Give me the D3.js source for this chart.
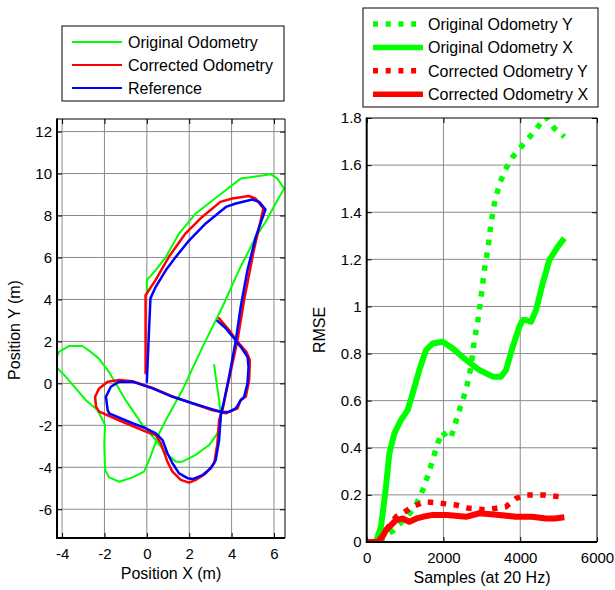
<!DOCTYPE html>
<html>
<head>
<meta charset="utf-8">
<script src="https://cdn.jsdelivr.net/npm/d3@7"></script>
<style>
body { margin: 0; background: #fff; }
svg { font-family: "Liberation Sans", Arial, sans-serif; }
</style>
</head>
<body>
<svg id="chart" width="615" height="590"></svg>
<script>
// left plot: trajectories [x, y] in metres
var origPath = [[0,4.35],[0,4.92],[0.42,5.4],[0.9,6.03],[1.52,7.14],[2.31,8.1],[3.41,8.97],[4.43,9.76],[4.98,9.84],[5.85,9.97],[6.16,9.76],[6.48,9.29],[6.16,8.73],[5.61,7.7],[5.14,6.98],[4.35,5.4],[3.57,3.65],[2.63,1.74],[1.68,-0.32],[0.9,-1.75],[0.58,-2.38],[0.11,-3.65],[-0.13,-4.21],[-0.68,-4.48],[-1.3,-4.69],[-1.78,-4.48],[-1.97,-4.13],[-2.01,-2.86],[-1.97,-1.99],[-2.33,-1.27],[-2.88,-0.8],[-3.83,0.32],[-4.28,0.79],[-4.3,1.1],[-4.15,1.5],[-3.68,1.78],[-3.05,1.78],[-2.66,1.51],[-2.27,1.19],[-1.79,0.55],[-1,-0.8],[-0.2,-1.99],[0.42,-2.7],[0.9,-3.33],[1.37,-3.73],[1.68,-3.73],[2.31,-3.41],[2.94,-2.94],[3.33,-2.38],[3.49,-1.75],[3.49,-1.51],[3.41,-0.8],[3.25,0.31],[3.18,0.87]];
var corrPath = [[-0.06,0.48],[-0.06,4.2],[0.41,4.92],[1.04,6.03],[1.82,7.14],[2.61,7.93],[3.47,8.65],[4.03,8.81],[4.81,8.93],[5.13,8.81],[5.5,8.33],[5.05,6.35],[4.59,3.97],[4.28,2.06],[3.73,-0.48],[3.57,-1.27],[3.41,-1.75],[3.33,-2.86],[3.18,-3.81],[2.78,-4.29],[2.31,-4.6],[1.99,-4.73],[1.6,-4.6],[1.21,-4.21],[0.97,-3.73],[0.66,-2.86],[0.42,-2.46],[-0.05,-2.3],[-1.15,-1.83],[-2.25,-1.35],[-2.4,-1.11],[-2.44,-0.64],[-2.25,-0.24],[-1.85,0.08],[-1.3,0.16],[-0.68,0.1],[0.27,-0.22],[1.21,-0.62],[2.15,-0.95],[3.1,-1.28],[3.57,-1.38],[3.73,-1.43],[4.28,-1.19],[4.43,-0.8],[4.67,-0.64],[4.83,0.16],[4.86,1.11],[4.7,1.5],[4.28,1.98],[3.88,2.54],[3.41,3.1]];
var refPath = [[0,0.08],[0.08,2],[0.17,4.05],[0.42,4.6],[0.9,5.4],[1.37,6.03],[2.0,6.82],[2.78,7.62],[3.73,8.41],[4.2,8.57],[4.98,8.76],[5.3,8.65],[5.6,8.29],[5.14,6.98],[4.75,5.4],[4.43,3.65],[4.2,2.06],[3.88,0.31],[3.65,-0.8],[3.49,-1.51],[3.41,-2.7],[3.25,-3.65],[3.02,-4.05],[2.63,-4.37],[2.16,-4.56],[1.92,-4.52],[1.52,-4.29],[1.21,-3.81],[0.97,-3.33],[0.74,-2.7],[0.42,-2.38],[-0.05,-2.14],[-0.68,-1.9],[-1.78,-1.43],[-1.85,-1.27],[-1.93,-0.64],[-1.7,-0.16],[-1.3,0.08],[-0.68,0.08],[0.27,-0.24],[1.21,-0.64],[2.15,-0.95],[3.1,-1.24],[3.57,-1.38],[3.88,-1.35],[4.2,-1.19],[4.43,-0.8],[4.59,-0.64],[4.75,0],[4.8,0.79],[4.75,1.27],[4.43,1.74],[4.12,2.14],[3.73,2.62],[3.33,2.98]];
var pathNames = ["Original Odometry", "Corrected Odometry", "Reference"];
var pathColors = ["#00ff00", "#ff0000", "#0000ff"];
var posXTicks = [-4, -2, 0, 2, 4, 6];
var posYTicks = [-6, -4, -2, 0, 2, 4, 6, 8, 10, 12];

// right plot: RMSE vs samples [sample, rmse]
var origY = [[0,0],[300,0],[700,0.05],[1110,0.12],[1284,0.157],[1501,0.235],[1719,0.348],[1849,0.419],[1980,0.468],[2100,0.44],[2200,0.445],[2414,0.56],[2588,0.645],[2718,0.744],[2805,0.857],[2892,0.935],[2979,1.04],[3066,1.155],[3153,1.24],[3240,1.353],[3327,1.437],[3457,1.52],[3630,1.586],[3804,1.635],[4065,1.685],[4325,1.735],[4672,1.805],[4889,1.756],[5149,1.72]];
var origX = [[0,0],[240,0],[373,0.065],[503,0.235],[590,0.376],[720,0.461],[894,0.518],[1068,0.56],[1198,0.631],[1371,0.73],[1545,0.815],[1719,0.843],[1980,0.85],[2240,0.822],[2588,0.773],[2935,0.73],[3283,0.702],[3500,0.702],[3630,0.73],[3804,0.829],[3977,0.914],[4065,0.942],[4151,0.942],[4281,0.935],[4412,0.985],[4585,1.098],[4758,1.197],[4976,1.253],[5149,1.29]];
var corrY = [[0,0],[300,0],[500,0.05],[764,0.107],[937,0.122],[1200,0.15],[1501,0.171],[1806,0.167],[2327,0.157],[2674,0.143],[3109,0.136],[3370,0.143],[3630,0.15],[3891,0.185],[4151,0.2],[4585,0.2],[5149,0.19]];
var corrX = [[0,0],[286,0],[400,0.02],[503,0.05],[764,0.093],[937,0.1],[1110,0.086],[1300,0.1],[1458,0.107],[1719,0.115],[2100,0.115],[2588,0.107],[2935,0.122],[3457,0.115],[3891,0.107],[4300,0.107],[4672,0.1],[4900,0.1],[5149,0.105]];
var rmseNames = ["Original Odometry Y", "Original Odometry X", "Corrected Odometry Y", "Corrected Odometry X"];
var rmseColors = ["#00ff00", "#00ff00", "#ff0000", "#ff0000"];
var rmseDotted = [true, false, true, false];
var sampleTicks = [0, 2000, 4000, 6000];
var rmseTicks = [0, 0.2, 0.4, 0.6, 0.8, 1, 1.2, 1.4, 1.6, 1.8];

var svg = d3.select("#chart");

function frame(x, y, xt, yt, fx, fy, id) {
  var x0 = x.range()[0], x1 = x.range()[1], y0 = y.range()[0], y1 = y.range()[1];
  var g = svg.append("g");
  // grid
  g.selectAll(".gx").data(xt.filter(function(d){ return x(d) > x0 + 1 && x(d) < x1 - 1; }))
    .enter().append("line").attr("x1", function(d){ return x(d); }).attr("x2", function(d){ return x(d); })
    .attr("y1", y0).attr("y2", y1).attr("stroke", "#8a8a8a").attr("stroke-width", 1);
  g.selectAll(".gy").data(yt.filter(function(d){ return y(d) < y0 - 1 && y(d) > y1 + 1; }))
    .enter().append("line").attr("y1", function(d){ return y(d); }).attr("y2", function(d){ return y(d); })
    .attr("x1", x0).attr("x2", x1).attr("stroke", "#8a8a8a").attr("stroke-width", 1);

  var bottom = g.append("g").attr("transform", "translate(0," + y0 + ")")
    .call(d3.axisBottom(x).tickValues(xt).tickFormat(fx).tickSizeInner(-5).tickSizeOuter(0).tickPadding(10.5));
  var top = g.append("g").attr("transform", "translate(0," + y1 + ")")
    .call(d3.axisTop(x).tickValues(xt).tickFormat("").tickSizeInner(-5).tickSizeOuter(0));
  var left = g.append("g").attr("transform", "translate(" + x0 + ",0)")
    .call(d3.axisLeft(y).tickValues(yt).tickFormat(fy).tickSizeInner(-5).tickSizeOuter(0).tickPadding(5));
  var right = g.append("g").attr("transform", "translate(" + x1 + ",0)")
    .call(d3.axisRight(y).tickValues(yt).tickFormat("").tickSizeInner(-5).tickSizeOuter(0));
  [bottom, top, left, right].forEach(function(a){
    a.select(".domain").remove();
    a.selectAll("text").attr("font-size", 15).attr("fill", "#000").attr("font-family", "'Liberation Sans', Arial, sans-serif");
    a.selectAll("line").attr("stroke", "#000");
  });

  svg.append("clipPath").attr("id", id).append("rect")
    .attr("x", x0).attr("y", y1).attr("width", x1 - x0).attr("height", y0 - y1);

  return function box() {
    var b = svg.append("g").attr("stroke", "#000").attr("fill", "none");
    b.append("line").attr("x1", x0).attr("x2", x1).attr("y1", y1).attr("y2", y1).attr("stroke-width", 1);
    b.append("line").attr("x1", x1).attr("x2", x1).attr("y1", y1).attr("y2", y0).attr("stroke-width", 1);
    b.append("line").attr("x1", x0).attr("x2", x1).attr("y1", y0).attr("y2", y0).attr("stroke-width", 2);
    b.append("line").attr("x1", x0).attr("x2", x0).attr("y1", y1 - 0.5).attr("y2", y0 + 1).attr("stroke-width", 2);
  };
}

// ---- left: position
var px = d3.scaleLinear().domain([-4.24, 6.52]).range([57, 285]);
var py = d3.scaleLinear().domain([-7.37, 12.6]).range([538, 119]);
var boxL = frame(px, py, posXTicks, posYTicks, function(d){ return String(d); }, function(d){ return String(d); }, "clipL");

var posLine = d3.line().x(function(d){ return px(d[0]); }).y(function(d){ return py(d[1]); });
var gl = svg.append("g").attr("clip-path", "url(#clipL)");
[origPath, corrPath, refPath].forEach(function(p, i){
  gl.append("path").attr("d", posLine(p)).attr("fill", "none")
    .attr("stroke", pathColors[i]).attr("stroke-width", i == 0 ? 2 : 2.5)
    .attr("stroke-linejoin", "round").attr("stroke-linecap", "round");
});
boxL();

svg.append("text").attr("x", 171).attr("y", 579).attr("text-anchor", "middle").attr("font-size", 16).text("Position X (m)");
svg.append("text").attr("transform", "translate(20,330) rotate(-90)").attr("text-anchor", "middle").attr("font-size", 16).text("Position Y (m)");

// legend left
var legL = svg.append("g");
legL.append("rect").attr("x", 62).attr("y", 26).attr("width", 222).attr("height", 75).attr("fill", "#fff").attr("stroke", "#000");
pathNames.forEach(function(n, i){
  var yy = 42 + i * 23;
  legL.append("line").attr("x1", 72).attr("x2", 122).attr("y1", yy).attr("y2", yy).attr("stroke", pathColors[i]).attr("stroke-width", 2);
  legL.append("text").attr("x", 128).attr("y", yy + 6).attr("font-size", 16).text(n);
});

// ---- right: RMSE
var sx = d3.scaleLinear().domain([0, 6000]).range([366.7, 597]);
var sy = d3.scaleLinear().domain([0, 1.8]).range([542, 118]);
var boxR = frame(sx, sy, sampleTicks, rmseTicks, d3.format("d"), d3.format("~g"), "clipR");

var rmseLine = d3.line().x(function(d){ return sx(d[0]); }).y(function(d){ return sy(d[1]); });
var gr = svg.append("g").attr("clip-path", "url(#clipR)");
[origY, origX, corrY, corrX].forEach(function(s, i){
  gr.append("path").attr("d", rmseLine(s)).attr("fill", "none")
    .attr("stroke", rmseColors[i]).attr("stroke-width", rmseDotted[i] ? 5.5 : 6)
    .attr("stroke-dasharray", rmseDotted[i] ? "5.5,7.5" : null)
    .attr("stroke-linejoin", "round");
});
boxR();

svg.append("text").attr("x", 482).attr("y", 583).attr("text-anchor", "middle").attr("font-size", 16).text("Samples (at 20 Hz)");
svg.append("text").attr("transform", "translate(325,330) rotate(-90)").attr("text-anchor", "middle").attr("font-size", 16).text("RMSE");

var legR = svg.append("g");
legR.append("rect").attr("x", 363).attr("y", 8).attr("width", 235).attr("height", 99).attr("fill", "#fff").attr("stroke", "#000");
rmseNames.forEach(function(n, i){
  var yy = 24 + i * 23.4;
  legR.append("line").attr("x1", 373).attr("x2", 423).attr("y1", yy).attr("y2", yy)
    .attr("stroke", rmseColors[i]).attr("stroke-width", 5.5)
    .attr("stroke-dasharray", rmseDotted[i] ? "5,7.7" : null);
  legR.append("text").attr("x", 428).attr("y", yy + 6).attr("font-size", 16).text(n);
});
</script>
</body>
</html>
